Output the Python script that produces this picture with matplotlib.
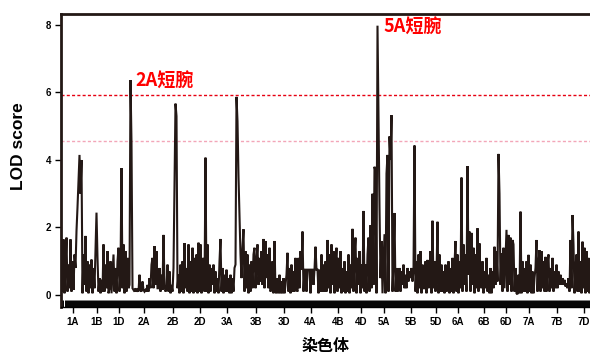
import numpy as np
import matplotlib
matplotlib.use("Agg")
import matplotlib.pyplot as plt

# ---------------- data ----------------
chromosomes = ["1A","1B","1D","2A","2B","2D","3A","3B","3D","4A","4B","4D",
               "5A","5B","5D","6A","6B","6D","7A","7B","7D"]
chrom_lengths = [23,25,20,29,29,25,29,30,26,27,28,18,28,26,23,22,30,14,32,24,30]

lod_1A = [1.6,0.1,1.65,0.05,0.8,1.7,0.1,0.9,0.2,1.65,0.1,1.0,0.15,1.2,0.8,1.9,2.6,3.4,4.15,3.0,4.0,0.05,1.2]
lod_1B = [0.3,1.75,0.1,1.0,0.05,0.9,0.2,1.05,0.05,0.8,0.2,1.3,2.44,1.1,0.1,0.5,0.05,0.45,0.1,1.5,0.1,0.9,0.2,1.3,0.05]
lod_1D = [0.2,1.0,0.05,0.6,1.2,0.1,0.8,0.05,1.0,1.4,0.1,0.7,3.76,0.2,1.5,0.05,1.3,0.1,1.1,0.2]
lod_2A = [0.3,6.37,4.5,0.2,0.15,0.1,0.2,0.1,0.15,0.1,0.6,0.15,0.1,0.4,0.15,0.1,0.15,0.1,0.3,0.1,0.5,0.2,0.9,1.1,0.2,1.45,0.3,1.3,0.2]
lod_2B = [0.2,0.8,0.1,0.6,0.15,1.78,0.3,0.1,0.2,0.9,0.1,0.7,0.05,0.3,0.1,0.8,3.2,5.67,5.3,0.2,0.6,0.05,0.9,0.1,1.0,0.05,1.54,0.2,0.8]
lod_2D = [0.1,1.5,0.05,1.0,0.1,1.4,0.05,1.1,0.1,1.2,0.05,1.55,0.1,1.5,0.05,1.0,1.1,0.1,4.07,0.1,1.5,0.05,0.9,0.1,0.8]
lod_3A = [0.3,0.9,0.05,0.7,0.1,0.5,0.05,1.0,1.66,0.1,0.8,0.05,0.6,0.1,0.75,0.1,0.5,0.05,0.6,0.05,0.5,0.1,0.8,0.9,5.87,5.15,3.5,2.4,1.2]
lod_3B = [0.5,1.4,1.95,0.1,1.3,0.2,1.2,0.05,0.9,0.1,1.0,0.2,1.2,1.4,0.2,1.0,1.5,0.3,1.1,0.4,1.3,0.3,1.66,0.2,1.6,0.5,1.2,0.2,1.4,0.1]
lod_3D = [0.3,1.0,0.05,1.6,0.1,0.05,0.5,0.05,0.6,0.05,0.4,0.05,0.5,0.05,0.3,0.6,1.25,0.1,0.8,0.05,0.9,0.1,0.7,0.1,1.1,0.2]
lod_4A = [0.1,1.1,0.2,1.3,0.75,1.88,0.1,0.75,0.75,0.1,0.75,0.75,0.75,0.05,0.75,0.75,0.3,0.75,1.43,0.75,0.75,0.05,0.75,0.1,1.2,0.1,0.9]
lod_4B = [0.1,1.0,0.1,1.63,0.2,1.2,0.05,1.5,0.3,1.3,0.05,0.9,1.4,0.1,1.1,0.2,1.3,0.05,0.8,0.1,1.0,0.05,0.7,0.1,1.2,0.05,0.9,0.2]
lod_4D = [1.96,0.1,1.2,1.7,0.05,1.1,0.3,1.3,0.05,0.9,0.2,2.49,0.1,0.9,0.05,1.2,1.7,0.1]
lod_5A = [2.07,0.2,3.0,0.3,3.8,3.65,0.05,7.98,5.33,2.6,0.5,1.6,0.05,0.9,1.8,0.05,3.6,4.15,0.1,4.7,4.0,5.33,0.1,1.0,2.43,0.1,0.8,0.1]
lod_5B = [0.2,0.8,0.1,0.7,0.3,0.9,0.2,0.6,0.2,0.8,0.4,0.7,0.5,0.8,0.4,0.7,4.43,0.1,1.0,0.05,1.2,0.2,1.3,0.05,0.9,0.2]
lod_5D = [0.2,1.0,0.05,1.04,0.2,0.7,1.3,0.05,2.2,0.2,1.0,0.1,0.6,2.17,0.05,1.2,0.1,0.9,0.1,0.7,0.05,0.9,0.1]
lod_6A = [0.2,1.0,0.05,0.8,0.1,1.1,0.05,0.9,1.6,0.1,1.2,0.05,1.0,0.2,3.48,0.1,1.5,0.3,1.2,0.1,3.82,0.6]
lod_6B = [1.88,0.1,1.84,0.3,1.4,0.05,1.2,0.2,1.98,0.1,1.53,0.4,0.2,1.0,0.05,0.7,0.2,1.1,0.1,0.6,0.05,0.8,0.05,0.7,0.2,1.43,0.3,1.3,0.4,4.18]
lod_6D = [3.0,0.3,1.24,0.1,1.4,0.2,1.1,1.93,0.1,1.78,0.3,1.7,0.1,1.63]
lod_7A = [1.5,0.1,0.8,0.05,0.02,0.6,0.05,2.47,0.05,1.0,0.1,0.8,0.1,1.0,0.05,1.19,0.1,0.9,0.05,0.7,0.05,0.5,0.8,1.63,0.1,0.9,1.33,0.1,1.3,0.2,1.0,0.1]
lod_7B = [1.13,0.1,0.9,1.2,0.1,0.8,0.2,1.1,0.1,0.7,0.2,0.9,0.2,0.7,0.3,0.6,0.3,0.5,0.3,0.45,0.25,0.35,0.2,0.5]
lod_7D = [0.1,1.63,0.2,2.37,1.5,0.05,0.8,1.2,0.1,1.88,0.1,1.0,0.05,1.58,0.2,1.4,0.05,1.3,0.1,1.1,0.05,0.8,0.05,0.6,0.1,0.5,0.05,0.4,0.1,0.5]

lod_by_chrom = [lod_1A, lod_1B, lod_1D, lod_2A, lod_2B, lod_2D, lod_3A, lod_3B, lod_3D,
                lod_4A, lod_4B, lod_4D, lod_5A, lod_5B, lod_5D, lod_6A, lod_6B, lod_6D,
                lod_7A, lod_7B, lod_7D]

threshold_high = 5.93
threshold_low = 4.56
annotation_labels = ["2A短腕", "5A短腕"]

# ---------------- build positions ----------------
starts = np.concatenate([[0], np.cumsum(chrom_lengths)[:-1]])
xs, ys = [], []
for s, L, vals in zip(starts, chrom_lengths, lod_by_chrom):
    n = len(vals)
    pos = s + (np.arange(n) + 0.5) * L / n
    xs.append(pos)
    ys.append(np.array(vals))
x = np.concatenate(xs)
y = np.concatenate(ys)
mids = starts + np.array(chrom_lengths) / 2.0

# ---------------- plot ----------------
plt.rcParams['font.family'] = ['Liberation Sans', 'Noto Sans CJK SC', 'DejaVu Sans']
fig = plt.figure(figsize=(5.9, 3.56), dpi=100)
ax = fig.add_axes([61/590, 1-307/356, (590-61)/590, (307-14)/356])

line_color = '#231815'
ax.plot(x, y, color=line_color, lw=1.5, solid_joinstyle='miter', zorder=3)

# rug of markers
ax.vlines(x, -0.356, -0.15, color='black', lw=0.7, zorder=2)

ax.axhline(threshold_high, color='#e60012', lw=1.0, ls=(0, (2.2, 1.6)), zorder=1)
ax.axhline(threshold_low, color='#f3a6b8', lw=1.0, ls=(0, (2.2, 1.6)), zorder=1)

ax.text(74, 6.34, annotation_labels[0], ha='left', va='center', color='#ff0000',
        fontsize=13, fontweight='bold', family=['Noto Sans CJK SC'], zorder=4)
ax.text(322, 7.94, annotation_labels[1], ha='left', va='center', color='#ff0000',
        fontsize=13, fontweight='bold', family=['Noto Sans CJK SC'], zorder=4)

ax.set_xlim(0, 529)
ax.set_ylim(-0.356, 8.326)
ax.set_xticks(mids)
ax.set_xticklabels(chromosomes)
ax.set_yticks([0, 2, 4, 6, 8])
ax.tick_params(axis='both', direction='out', length=4, width=1, labelsize=7, pad=3, color='black')
for lab in ax.get_xticklabels() + ax.get_yticklabels():
    lab.set_fontweight('bold')

for side in ['left', 'top']:
    ax.spines[side].set_linewidth(2)
    ax.spines[side].set_color(line_color)
ax.spines['right'].set_visible(False)
ax.spines['bottom'].set_linewidth(1)

ax.set_ylabel('LOD score', fontsize=12.5, fontweight='bold')
ax.yaxis.set_label_coords(-0.066, 0.55)
ax.set_xlabel('染色体', fontsize=11.5, fontweight='bold', family=['Noto Sans CJK SC'], labelpad=8)

fig.savefig('out.png', dpi=100)
